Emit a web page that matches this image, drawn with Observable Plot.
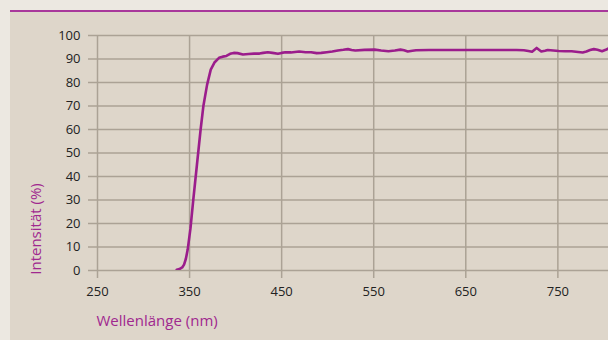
<!DOCTYPE html>
<html>
<head>
<meta charset="utf-8">
<script src="https://cdn.jsdelivr.net/npm/d3@7"></script>
<script src="https://cdn.jsdelivr.net/npm/@observablehq/plot@0.6"></script>
<style>
  html, body { margin: 0; padding: 0; background: #ece8e1; width: 608px; height: 340px; overflow: hidden; }
  #panel { position: absolute; left: 10px; top: 10px; right: 0; bottom: 0; background: #ded6ca; border-top: 2px solid #a8389b; }
  #chart { position: absolute; left: 0; top: 0; }
  #chart svg { background: transparent; display: block; }
</style>
</head>
<body>
<div id="panel"></div>
<div id="chart"></div>
<script>
const wavelength = [336,339,342,344,346,348,351,354,358,362,365,369,373,377,382,386,390,394,398,402,408,414,420,426,430,435,440,446,450,454,460,469,476,482,488,493,499,505,511,517,522,526,530,540,551,558,566,573,579,583,587,592,596,610,630,650,670,690,705,713,718,722,727,732,736,739,745,751,758,765,772,777,781,785,789,793,798,802,805];
const intensity = [0.3,0.6,1.3,2.5,5,9,18,30,45,60,70,79,85.5,88.5,90.5,91,91.3,92.2,92.6,92.5,91.9,92.1,92.3,92.3,92.6,92.9,92.6,92.2,92.6,92.9,92.8,93.2,92.9,92.9,92.5,92.6,92.9,93.2,93.6,93.9,94.2,93.8,93.6,93.9,94,93.6,93.3,93.6,94,93.7,93.2,93.5,93.7,93.8,93.8,93.8,93.8,93.8,93.8,93.7,93.4,93.1,94.7,93.2,93.5,93.8,93.6,93.4,93.3,93.3,93,92.8,93.2,93.8,94.2,93.9,93.3,93.9,94.5];
const xTicks = [250,350,450,550,650,750];
const yTicks = [0,10,20,30,40,50,60,70,80,90,100];
const xTitle = "Wellenlänge (nm)";
const yTitle = "Intensität (%)";

const data = wavelength.map((w, i) => ({w, v: intensity[i]}));
const grid = "#aba295";
const accent = "#a0288f";

const chart = Plot.plot({
  width: 608,
  height: 340,
  marginLeft: 97,
  marginRight: 0,
  marginTop: 35,
  marginBottom: 70,
  style: {fontFamily: "'Open Sans', sans-serif", fontSize: "13px", color: "#222", background: "transparent"},
  x: {domain: [250, 805], ticks: xTicks},
  y: {domain: [0, 100], ticks: yTicks},
  marks: [
    Plot.gridY(yTicks, {stroke: grid, strokeOpacity: 1, strokeWidth: 1.5}),
    Plot.gridX(xTicks, {stroke: grid, strokeOpacity: 1, strokeWidth: 1.5}),
    Plot.axisY(yTicks, {tickSize: 9, tickPadding: 8, stroke: grid, strokeWidth: 1.5, label: null, fill: "#222", fontSize: 13}),
    Plot.axisX(xTicks, {tickSize: 8, tickPadding: 8, stroke: grid, strokeWidth: 1.5, label: null, fill: "#222", fontSize: 13}),
    Plot.line(data, {x: "w", y: "v", stroke: "#9b1d8c", strokeWidth: 2.6, curve: "linear", clip: true}),
    Plot.text([yTitle], {frameAnchor: "left", textAnchor: "middle", rotate: -90, dx: -61, dy: 76, fill: accent, fontSize: 15}),
    Plot.text([xTitle], {frameAnchor: "bottom-left", textAnchor: "start", dx: -1, dy: 55, fill: accent, fontSize: 15})
  ]
});
document.getElementById("chart").appendChild(chart);
</script>
</body>
</html>
